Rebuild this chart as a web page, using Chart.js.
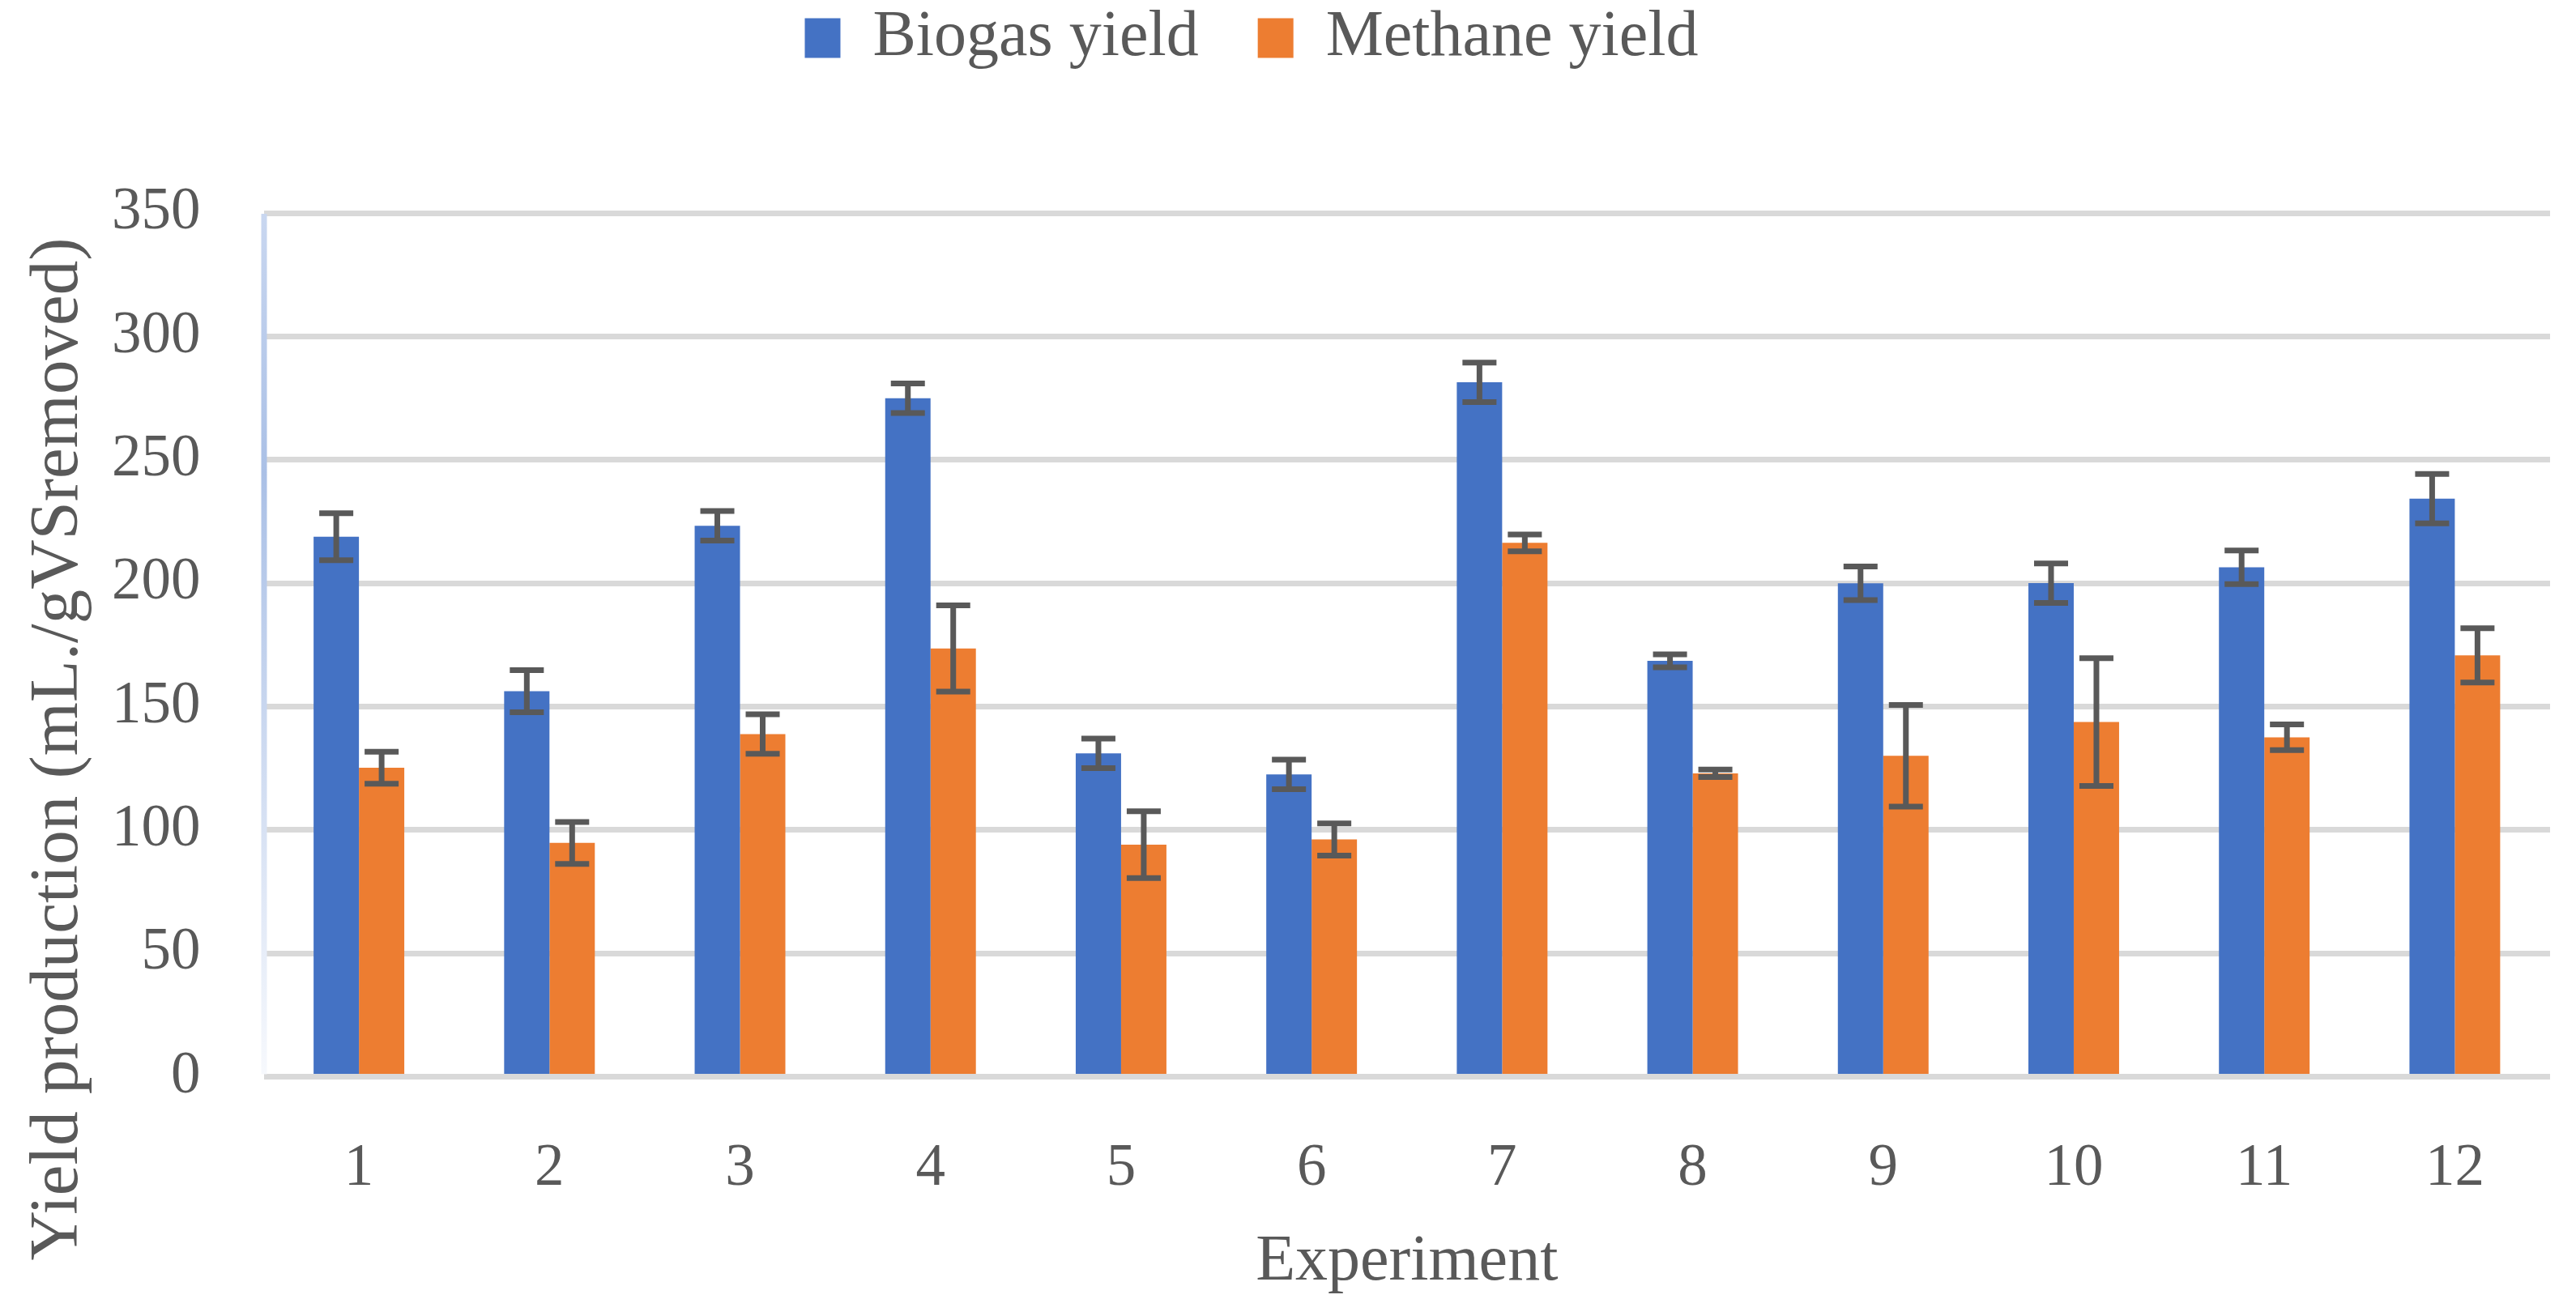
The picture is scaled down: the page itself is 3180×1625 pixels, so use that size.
<!DOCTYPE html>
<html>
<head>
<meta charset="utf-8">
<script src="https://cdn.jsdelivr.net/npm/chart.js@4.4.1/dist/chart.umd.min.js"></script>
<style>
  html, body { margin: 0; padding: 0; background: #fff; }
  #wrap { width: 3180px; height: 1625px; }
</style>
</head>
<body>
<div id="wrap"><canvas id="yieldChart"></canvas></div>
<script>
// data
const experiments = ["1", "2", "3", "4", "5", "6", "7", "8", "9", "10", "11", "12"];
const biogasYield = [218.8, 156.2, 223.2, 274.9, 131.0, 122.5, 281.4, 168.5, 199.9, 200.0, 206.4, 234.2];
const biogasErr = [9.5, 8.5, 6.0, 6.0, 6.0, 6.0, 8.0, 2.6, 6.8, 8.0, 6.8, 10.0];
const methaneYield = [125.2, 94.7, 138.8, 173.5, 94.0, 96.1, 216.3, 122.9, 130.0, 143.7, 137.5, 170.7];
const methaneErr = [6.5, 8.5, 8.0, 17.5, 13.5, 6.5, 3.4, 1.5, 20.6, 25.9, 5.2, 11.0];
const yTicks = [0, 50, 100, 150, 200, 250, 300, 350];

const textColor = "#595959";
const serif = "'Liberation Serif', 'Times New Roman', serif";

// error bars on top of each bar
const errorBars = {
  id: "errorBars",
  afterDatasetsDraw(chart) {
    const ctx = chart.ctx;
    const y = chart.scales.y;
    const errs = [biogasErr, methaneErr];
    ctx.save();
    ctx.strokeStyle = "#595959";
    ctx.lineWidth = 7;
    chart.data.datasets.forEach((ds, i) => {
      const meta = chart.getDatasetMeta(i);
      meta.data.forEach((bar, j) => {
        const v = ds.data[j];
        const e = errs[i][j];
        const top = y.getPixelForValue(v + e);
        const bot = y.getPixelForValue(v - e);
        ctx.beginPath();
        ctx.moveTo(bar.x, top);
        ctx.lineTo(bar.x, bot);
        ctx.moveTo(bar.x - 21, top);
        ctx.lineTo(bar.x + 21, top);
        ctx.moveTo(bar.x - 21, bot);
        ctx.lineTo(bar.x + 21, bot);
        ctx.stroke();
      });
    });
    ctx.restore();
  },
};

// faint blue fading line along the left edge of the plot, plus y title
const sideDecor = {
  id: "sideDecor",
  beforeDatasetsDraw(chart) {
    const { ctx, chartArea } = chart;
    const g = ctx.createLinearGradient(0, chartArea.top, 0, chartArea.bottom);
    g.addColorStop(0, "#C9D7F0");
    g.addColorStop(0.3, "#AAC0E6");
    g.addColorStop(1, "#F7F9FD");
    ctx.save();
    ctx.fillStyle = g;
    ctx.fillRect(chartArea.left - 3, chartArea.top + 1, 7, chartArea.bottom - chartArea.top - 4);
    ctx.restore();
  },
  afterDraw(chart) {
    const ctx = chart.ctx;
    ctx.save();
    ctx.translate(73, 925);
    ctx.rotate(-Math.PI / 2);
    ctx.fillStyle = textColor;
    ctx.font = "85px " + serif;
    ctx.textAlign = "center";
    ctx.textBaseline = "middle";
    ctx.fillText("Yield production (mL./gVSremoved)", 0, 0);
    ctx.restore();
  },
};

// extra room under the legend, and nudge it left like the original
const legendGap = {
  id: "legendGap",
  beforeInit(chart) {
    const fit = chart.legend.fit;
    chart.legend.fit = function () {
      fit.bind(chart.legend)();
      this.height += 166;
    };
  },
  afterLayout(chart) {
    chart.legend.left -= 59;
    chart.legend.right -= 59;
  },
};

new Chart(document.getElementById("yieldChart"), {
  type: "bar",
  data: {
    labels: experiments,
    datasets: [
      {
        label: "Biogas yield",
        data: biogasYield,
        backgroundColor: "#4472C4",
        categoryPercentage: 0.476,
        barPercentage: 1.0,
      },
      {
        label: "Methane yield",
        data: methaneYield,
        backgroundColor: "#ED7D31",
        categoryPercentage: 0.476,
        barPercentage: 1.0,
      },
    ],
  },
  options: {
    responsive: true,
    maintainAspectRatio: false,
    animation: false,
    layout: { padding: { left: 60, right: 32, top: -66, bottom: 14 } },
    plugins: {
      tooltip: { enabled: false },
      legend: {
        position: "top",
        labels: {
          color: textColor,
          font: { family: serif, size: 80 },
          boxWidth: 44,
          boxHeight: 49,
          padding: 73,
        },
      },
    },
    scales: {
      x: {
        grid: { display: false },
        border: { display: false },
        ticks: { color: textColor, font: { family: serif, size: 73 }, padding: 63 },
        title: {
          display: true,
          text: "Experiment",
          color: textColor,
          font: { family: serif, size: 80 },
          padding: { top: -40, bottom: 4 },
        },
      },
      y: {
        min: 0,
        max: 350,
        afterBuildTicks(scale) {
          scale.ticks = yTicks.map((v) => ({ value: v }));
        },
        grid: { color: "#D9D9D9", lineWidth: 7, drawTicks: false },
        border: { display: false },
        ticks: { color: textColor, font: { family: serif, size: 73 }, padding: 78 },
      },
    },
  },
  plugins: [sideDecor, errorBars, legendGap],
});
</script>
</body>
</html>
